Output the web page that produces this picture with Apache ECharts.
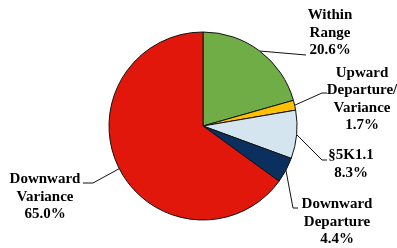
<!DOCTYPE html>
<html>
<head>
<meta charset="utf-8">
<script src="https://cdn.jsdelivr.net/npm/echarts@6/dist/echarts.min.js"></script>
<style>
  html, body { margin: 0; padding: 0; background: #fff; }
  #chartContainer { width: 397px; height: 248px; }
</style>
</head>
<body>
<div id="chartContainer"></div>
<script>
var categories = ['Within\nRange', 'Upward\nDeparture/\nVariance', '\u00a75K1.1', 'Downward\nDeparture', 'Downward\nVariance'];
var percents = [20.6, 1.7, 8.3, 4.4, 65.0];
var colors = ['#70ad47', '#ffc000', '#d4e5f0', '#0b2f5e', '#e0170a'];

// where each label block sits (center x, middle y) and the bend of its leader line
var labelSpots = [
  { x: 330, y: 33, bend: [306, 55], end: [306, 55] },
  { x: 362, y: 99, bend: [322, 93], end: [327, 93] },
  { x: 351, y: 164, bend: [322, 160], end: [327, 160] },
  { x: 337, y: 222, bend: [293, 208], end: [298, 208] },
  { x: 45, y: 197, bend: [93, 183], end: [83, 183] }
];

function drawPie() {
  var chart = echarts.init(document.getElementById('chartContainer'));

  chart.setOption({
    animation: false,
    series: [{
      type: 'pie',
      radius: 94,
      center: [203, 126],
      startAngle: 90,
      clockwise: true,
      data: categories.map(function (c, i) {
        return { name: c, value: percents[i], itemStyle: { color: colors[i] } };
      }),
      itemStyle: { borderColor: '#111', borderWidth: 1 },
      label: {
        show: true,
        position: 'outside',
        formatter: function (p) { return p.name + '\n' + p.value.toFixed(1) + '%'; },
        fontFamily: 'Liberation Serif',
        fontWeight: 'bold',
        fontSize: 15,
        lineHeight: 17.5,
        color: '#000',
        align: 'center',
        overflow: 'none'
      },
      labelLine: {
        show: true,
        lineStyle: { color: '#111', width: 1 }
      },
      labelLayout: function (params) {
        var s = labelSpots[params.dataIndex];
        var start = params.labelLinePoints ? params.labelLinePoints[0] : s.bend;
        return {
          x: s.x,
          y: s.y,
          align: 'center',
          verticalAlign: 'middle',
          labelLinePoints: [start, s.bend, s.end]
        };
      },
      emphasis: { disabled: true }
    }]
  });

  window.addEventListener('resize', function () {
    chart.resize();
  });
}

drawPie();
</script>
</body>
</html>
